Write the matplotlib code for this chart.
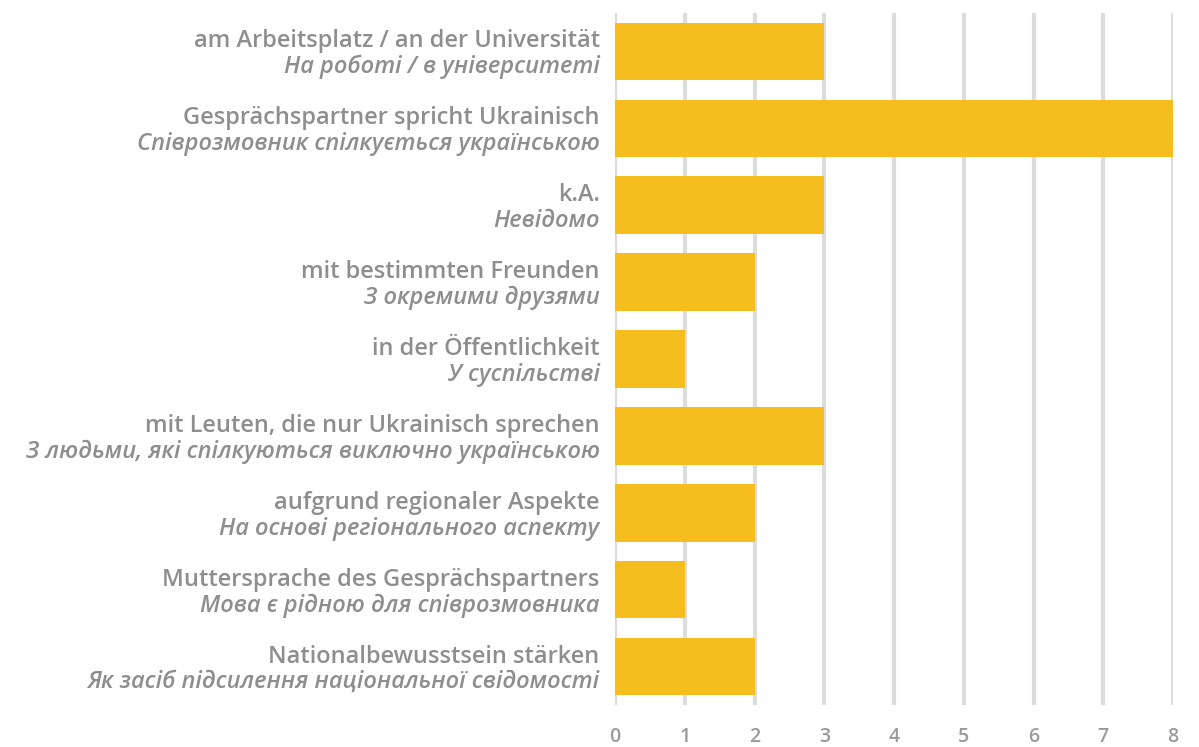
import matplotlib
matplotlib.use("Agg")
import matplotlib.pyplot as plt

labels_de = [
    "am Arbeitsplatz / an der Universität",
    "Gesprächspartner spricht Ukrainisch",
    "k.A.",
    "mit bestimmten Freunden",
    "in der Öffentlichkeit",
    "mit Leuten, die nur Ukrainisch sprechen",
    "aufgrund regionaler Aspekte",
    "Muttersprache des Gesprächspartners",
    "Nationalbewusstsein stärken",
]
labels_uk = [
    "На роботі / в університеті",
    "Співрозмовник спілкується українською",
    "Невідомо",
    "З окремими друзями",
    "У суспільстві",
    "З людьми, які спілкуються виключно українською",
    "На основі регіонального аспекту",
    "Мова є рідною для співрозмовника",
    "Як засіб підсилення національної свідомості",
]
values = [3, 8, 3, 2, 1, 3, 2, 1, 2]
xticks = [0, 1, 2, 3, 4, 5, 6, 7, 8]
xtick_labels = ["0", "1", "2", "3", "4", "5", "6", "7", "8"]

BAR = "#F5BE1E"
GRID = "#DCDCDC"
TXT = "#8E8E8E"

plt.rcParams['font.family'] = ['Open Sans', 'DejaVu Sans']

fig = plt.figure(figsize=(11.99, 7.47), dpi=100)
ax = fig.add_axes([615/1199, 1 - 705/747, (1173 - 615)/1199, (705 - 13)/747])

y = list(range(len(values)))
ax.barh(y, values, height=0.75, color=BAR, zorder=3)
ax.set_ylim(len(values) - 0.5, -0.5)
ax.set_xlim(0, 8)

ax.set_xticks(xticks)
ax.set_xticklabels(xtick_labels, fontweight='semibold')
ax.set_yticks([])
for s in ax.spines.values():
    s.set_visible(False)
ax.grid(axis='x', color=GRID, linewidth=3, zorder=0)
ax.axvline(0, color=GRID, linewidth=3, zorder=0)
ax.tick_params(axis='x', length=0, pad=16, labelsize=14, labelcolor="#9A9A9A")

for i, (de, uk) in enumerate(zip(labels_de, labels_uk)):
    ax.annotate(de, xy=(0, i), xycoords=('axes fraction', 'data'),
                xytext=(-11, 2.9), textcoords='offset points',
                ha='right', va='baseline', fontsize=17, color=TXT, fontweight='semibold')
    ax.annotate(uk, xy=(0, i), xycoords=('axes fraction', 'data'),
                xytext=(-11, -15.8), textcoords='offset points',
                ha='right', va='baseline', fontsize=17, color=TXT, fontweight='semibold',
                fontstyle='italic')

fig.savefig("out.png", dpi=100)
